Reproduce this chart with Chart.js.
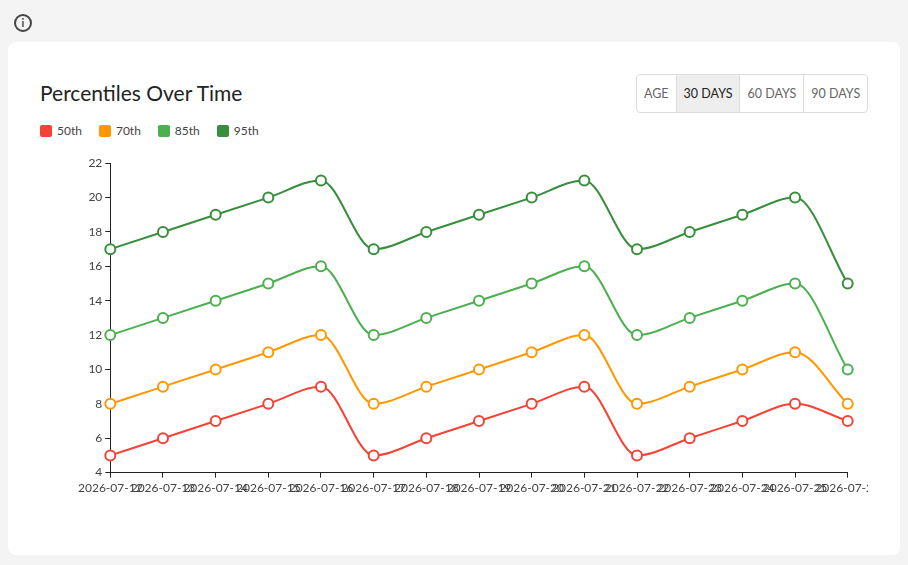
<!DOCTYPE html>
<html>
<head>
<meta charset="utf-8">
<script src="https://cdn.jsdelivr.net/npm/chart.js@4"></script>
<style>
  body { margin: 0; background: #f4f4f4; font-family: Lato, sans-serif; color: #222; width: 908px; height: 565px; overflow: hidden; position: relative; }
  .info { position: absolute; left: 14px; top: 14px; width: 14px; height: 14px; border: 2px solid #444; border-radius: 50%; font: bold 11px Lato, sans-serif; text-align: center; line-height: 14px; color: #444; }
  .card { position: absolute; left: 8px; top: 42px; width: 892px; height: 513px; background: #fff; border-radius: 8px; }
  h1 { position: absolute; left: 32px; top: 38px; margin: 0; font-weight: 400; font-size: 21px; }
  .btns { position: absolute; left: 628px; top: 32px; display: flex; border: 1px solid #ddd; border-radius: 4px; overflow: hidden; }
  .btns div { padding: 0 7px; height: 37px; line-height: 37px; font-size: 12.5px; color: #666; border-left: 1px solid #ddd; }
  .btns div:first-child { border-left: none; }
  .btns .on { background: #eee; color: #222; }
  .legend { position: absolute; left: 32px; top: 81px; display: flex; font-size: 12px; color: #444; }
  .legend span { display: flex; align-items: center; margin-right: 17px; }
  .legend i { width: 12px; height: 12px; border-radius: 2px; margin-right: 5px; display: inline-block; }
  .wrap { position: absolute; left: 67px; top: 111px; width: 793px; height: 345px; overflow: hidden; }
  .inner { position: relative; width: 808px; height: 345px; }
</style>
</head>
<body>
<div class="info">i</div>
<div class="card">
  <h1>Percentiles Over Time</h1>
  <div class="btns"><div>AGE</div><div class="on">30 DAYS</div><div>60 DAYS</div><div>90 DAYS</div></div>
  <div class="legend" id="legend"></div>
  <div class="wrap"><div class="inner"><canvas id="chart"></canvas></div></div>
</div>
<script>
let dates = ['2026-07-12','2026-07-13','2026-07-14','2026-07-15','2026-07-16','2026-07-17','2026-07-18','2026-07-19','2026-07-20','2026-07-21','2026-07-22','2026-07-23','2026-07-24','2026-07-25','2026-07-26']
let p50 = [5,6,7,8,9,5,6,7,8,9,5,6,7,8,7]
let p70 = [8,9,10,11,12,8,9,10,11,12,8,9,10,11,8]
let p85 = [12,13,14,15,16,12,13,14,15,16,12,13,14,15,10]
let p95 = [17,18,19,20,21,17,18,19,20,21,17,18,19,20,15]
let names = ['50th','70th','85th','95th']
let colors = ['#f44336','#ff9800','#4caf50','#388e3c']

let legend = document.querySelector("#legend")
names.forEach((n, i) => {
    legend.innerHTML += '<span><i style="background:' + colors[i] + '"></i>' + n + '</span>'
})

let series = [p50, p70, p85, p95]
let ctx = document.querySelector("#chart").getContext("2d")

new Chart(ctx, {
    type: "line",
    data: {
        labels: dates,
        datasets: series.map((d, i) => ({
            label: names[i],
            data: d,
            borderColor: colors[i],
            backgroundColor: '#fff',
            pointBackgroundColor: '#fff',
            pointBorderColor: colors[i],
            pointBorderWidth: 2,
            pointRadius: 5,
            borderWidth: 2,
            cubicInterpolationMode: 'monotone',
            fill: false
        }))
    },
    options: {
        responsive: true,
        maintainAspectRatio: false,
        animation: false,
        plugins: { legend: { display: false }, tooltip: { enabled: false } },
        scales: {
            x: {
                grid: { drawOnChartArea: false, color: '#222', tickLength: 5 },
                border: { color: '#222' },
                ticks: { autoSkip: false, maxRotation: 0, minRotation: 0, color: '#444', font: { family: 'Lato', size: 12 } }
            },
            y: {
                min: 4, max: 22,
                grid: { drawOnChartArea: false, color: '#222', tickLength: 5 },
                border: { color: '#222' },
                ticks: { stepSize: 2, color: '#444', font: { family: 'Lato', size: 12 } }
            }
        }
    }
})
</script>
</body>
</html>
